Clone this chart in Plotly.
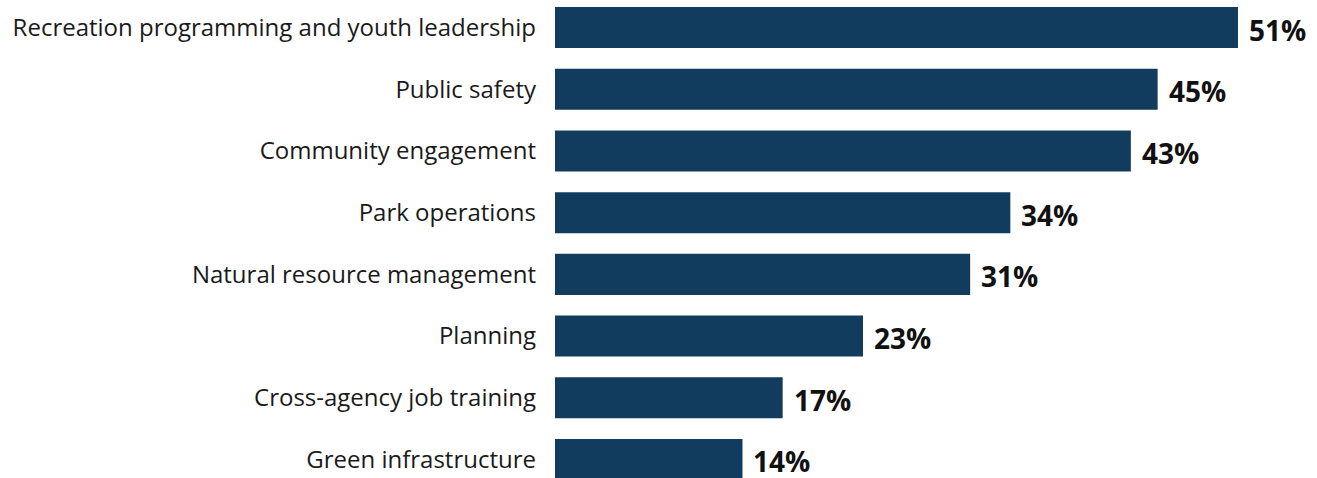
import plotly.graph_objects as go

categories = [
    "Recreation programming and youth leadership",
    "Public safety",
    "Community engagement",
    "Park operations",
    "Natural resource management",
    "Planning",
    "Cross-agency job training",
    "Green infrastructure",
]
values = [51, 45, 43, 34, 31, 23, 17, 14]
value_labels = [f"{v}%" for v in values]

BAR_COLOR = "#123c5e"
FONT = "Open Sans, Noto Sans, sans-serif"

positions = list(range(len(categories)))

fig = go.Figure(
    go.Bar(
        x=values,
        y=positions,
        orientation="h",
        marker=dict(color=BAR_COLOR, line=dict(width=0)),
        width=0.665,
        hoverinfo="skip",
    )
)

for pos, v, lab in zip(positions, values, value_labels):
    fig.add_annotation(
        x=v, y=pos, text=f"<b>{lab}</b>", showarrow=False,
        xanchor="left", yanchor="middle", xshift=9, yshift=-2,
        font=dict(family=FONT, size=28, color="#111111"),
    )

fig.update_layout(
    width=1317, height=478,
    margin=dict(l=555, r=0, t=0, b=0),
    paper_bgcolor="white", plot_bgcolor="white",
    showlegend=False,
    font=dict(family=FONT, color="#1a1a1a"),
    xaxis=dict(range=[0, 56.9], visible=False, fixedrange=True),
    yaxis=dict(
        range=[7.30, -0.446],
        tickmode="array", tickvals=positions, ticktext=categories,
        tickfont=dict(family=FONT, size=24, color="#1a1a1a"),
        showgrid=False, zeroline=False, showline=False,
        ticks="", ticklabelstandoff=18, fixedrange=True,
    ),
)

fig.write_html("out.html")
